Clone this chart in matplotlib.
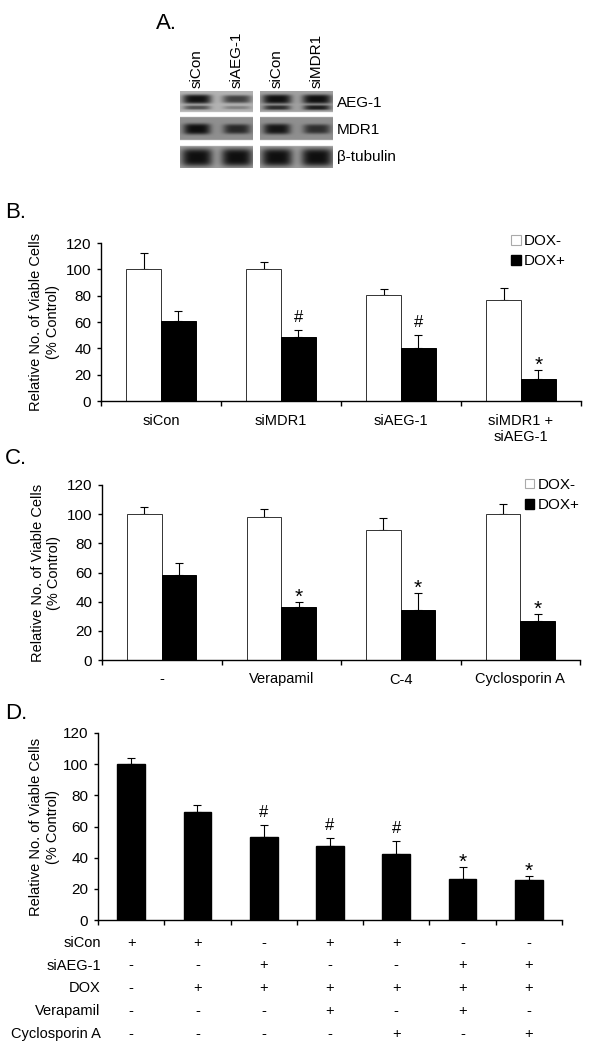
import numpy as np
import matplotlib
matplotlib.use("Agg")
import matplotlib.pyplot as plt
from matplotlib.patches import Patch

plt.rcParams['font.family'] = ['Liberation Sans', 'DejaVu Sans']
plt.rcParams['font.size'] = 10

# ---- panel A: western blot band strengths (0..1) per lane ----
blot_lanes = [["siCon", "siAEG-1"], ["siCon", "siMDR1"]]
blot_proteins = ["AEG-1", "MDR1", "β-tubulin"]
aeg_upper = [[1.0, 0.7], [1.0, 1.0]]
aeg_lower = [[0.6, 0.3], [0.8, 0.9]]
mdr1_band = [[1.0, 0.8], [0.95, 0.75]]
tubulin_band = [[1.0, 1.0], [1.0, 1.0]]

# ---- panel B ----
b_cats = ["siCon", "siMDR1", "siAEG-1", "siMDR1 +\nsiAEG-1"]
b_neg = [100, 100, 80.5, 76.6]
b_neg_err = [12.3, 5.7, 4.5, 9.4]
b_pos = [60.8, 48.5, 40.1, 16.6]
b_pos_err = [7.6, 5.1, 9.9, 6.6]
b_marks = ["", "#", "#", "*"]

# ---- panel C ----
c_cats = ["-", "Verapamil", "C-4", "Cyclosporin A"]
c_neg = [100, 98.4, 89.4, 100.2]
c_neg_err = [4.8, 5.0, 8.3, 6.5]
c_pos = [58.4, 36.6, 34.3, 26.7]
c_pos_err = [8.3, 2.9, 11.4, 5.0]
c_marks = ["", "*", "*", "*"]

# ---- panel D ----
d_vals = [100, 69.1, 53.5, 47.3, 42.6, 26.2, 25.4]
d_err = [3.9, 4.5, 7.3, 5.1, 7.9, 8.0, 3.0]
d_marks = ["", "", "#", "#", "#", "*", "*"]
d_rows = ["siCon", "siAEG-1", "DOX", "Verapamil", "Cyclosporin A"]
d_table = [
    ["+", "+", "-", "+", "+", "-", "-"],
    ["-", "-", "+", "-", "-", "+", "+"],
    ["-", "+", "+", "+", "+", "+", "+"],
    ["-", "-", "-", "+", "-", "+", "-"],
    ["-", "-", "-", "-", "+", "-", "+"],
]

ylabel = "Relative No. of Viable Cells\n(% Control)"
mark_off = {"#": 6, "*": -0.5}
mark_size = {"#": 12, "*": 15}

W, H = 595, 1050
fig = plt.figure(figsize=(W / 100, H / 100), dpi=100)


def px_rect(x0, y0, x1, y1):
    return [x0 / W, 1 - y1 / H, (x1 - x0) / W, (y1 - y0) / H]


# ---------- panel A ----------
fig.text(156 / W, 1 - 29 / H, "A.", fontsize=16, ha="left", va="baseline")


def blot_image(p):
    h, w = 77, 73
    ys = np.linspace(0, h, h * 4)[:, None]
    xs = np.linspace(0, w, w * 4)[None, :]
    img = np.ones((len(ys), xs.shape[1]))
    rows = [(0, 21, 0.70 if p == 0 else 0.63), (26, 49, 0.56), (55, 77, 0.62)]
    for (r0, r1, bg) in rows:
        m = (ys >= r0) & (ys <= r1)
        img = np.where(m, bg, img)
    lanes = [17, 57]
    bands = [(aeg_upper, 8, 4.6, 14.5), (aeg_lower, 16.5, 2.5, 13.5),
             (mdr1_band, 38, 5.4, 13.5), (tubulin_band, 66.5, 8.8, 15.5)]
    dark = np.zeros_like(img)
    for strength, yc, hh, hw in bands:
        for li, xc in enumerate(lanes):
            s = strength[p][li]
            hh_s = hh * (0.55 + 0.45 * s)
            dark += s * np.exp(-((xs - xc) / hw) ** 4) * np.exp(-((ys - yc) / hh_s) ** 4)
    dark = np.clip(dark, 0, 1)
    out = img * (1 - 0.9 * dark)
    return np.where(img >= 1, 1.0, out)


for p, (x0, x1) in enumerate([(180, 253), (260, 333)]):
    axb = fig.add_axes(px_rect(x0, 91, x1, 168))
    axb.imshow(blot_image(p), cmap="gray", vmin=0, vmax=1, aspect="auto",
               interpolation="bilinear")
    axb.axis("off")
    for li, lx in enumerate([x0 + 17, x0 + 57]):
        fig.text(lx / W, 1 - 88 / H, blot_lanes[p][li], rotation=90,
                 ha="center", va="bottom", fontsize=11)

for name, yc in zip(blot_proteins, [103, 129.5, 157]):
    fig.text(337 / W, 1 - yc / H, name, ha="left", va="center", fontsize=11)


def style_axes(ax, n):
    for s in ["top", "right"]:
        ax.spines[s].set_visible(False)
    for s in ["left", "bottom"]:
        ax.spines[s].set_linewidth(1.0)
    ax.set_ylim(0, 120)
    ax.set_yticks(range(0, 121, 20))
    ax.set_xlim(-0.5, n - 0.5)
    ax.set_xticks(np.arange(n + 1) - 0.5, minor=True)
    ax.tick_params(axis="x", which="minor", length=3.5, width=1, direction="out")
    ax.tick_params(axis="x", which="major", length=0, pad=9, labelsize=10.5)
    ax.tick_params(axis="y", length=3, width=1, pad=4, labelsize=11)
    ax.set_ylabel(ylabel, fontsize=10.5, linespacing=1.25)


def annotate(ax, xs, tops, marks):
    for x, t, m in zip(xs, tops, marks):
        if m:
            ax.annotate(m, xy=(x, t), xytext=(0, mark_off[m]), textcoords="offset points",
                        ha="center", va="baseline", fontsize=mark_size[m])


def grouped_panel(rect, cats, neg, neg_err, pos, pos_err, marks, letter, letter_y, leg_xy):
    ax = fig.add_axes(rect)
    n = len(cats)
    x = np.arange(n)
    bw = 0.29
    ax.bar(x - bw / 2, neg, bw, color="white", edgecolor="#333333", linewidth=0.7, zorder=2)
    ax.bar(x + bw / 2, pos, bw, color="black", edgecolor="black", linewidth=0.7, zorder=2)
    ax.errorbar(x - bw / 2, neg, yerr=[np.zeros(n), neg_err], fmt="none", ecolor="black",
                elinewidth=0.8, capsize=2.8, capthick=0.8, zorder=1)
    ax.errorbar(x + bw / 2, pos, yerr=[np.zeros(n), pos_err], fmt="none", ecolor="black",
                elinewidth=0.8, capsize=2.8, capthick=0.8, zorder=1)
    annotate(ax, x + bw / 2, np.array(pos) + np.array(pos_err), marks)
    style_axes(ax, n)
    ax.set_xticks(x, cats)
    ax.yaxis.set_label_coords(-0.085, 0.5)
    handles = [Patch(facecolor="white", edgecolor="#aaaaaa", linewidth=0.8),
               Patch(facecolor="black", edgecolor="black")]
    ax.legend(handles, ["DOX-", "DOX+"], loc="upper left", bbox_to_anchor=leg_xy,
              frameon=False, fontsize=11, handlelength=0.6, handleheight=0.6,
              handletextpad=0.2, labelspacing=0.4, borderpad=0, borderaxespad=0)
    fig.text(5 / W, 1 - letter_y / H, letter, fontsize=16, ha="left", va="baseline")
    return ax


grouped_panel(px_rect(101, 243, 581, 401), b_cats, b_neg, b_neg_err, b_pos, b_pos_err,
              b_marks, "B.", 218, (0.855, 1.055))
grouped_panel(px_rect(102, 485, 580, 660), c_cats, c_neg, c_neg_err, c_pos, c_pos_err,
              c_marks, "C.", 464, (0.885, 1.04))

# ---------- panel D ----------
axd = fig.add_axes(px_rect(98, 733, 562, 920))
n = len(d_vals)
xd = np.arange(n)
axd.bar(xd, d_vals, 0.42, color="black", edgecolor="black", zorder=2)
axd.errorbar(xd, d_vals, yerr=[np.zeros(n), d_err], fmt="none", ecolor="black",
             elinewidth=0.8, capsize=2.8, capthick=0.8, zorder=1)
annotate(axd, xd, np.array(d_vals) + np.array(d_err), d_marks)
style_axes(axd, n)
axd.set_xticks(xd, [""] * n)
axd.yaxis.set_label_coords(-0.082, 0.5)
fig.text(5 / W, 1 - 719 / H, "D.", fontsize=16, ha="left", va="baseline")

for r, (name, row) in enumerate(zip(d_rows, d_table)):
    dy = -(22.7 + 22.8 * r) * 0.72
    axd.annotate(name, xy=(0.006, 0), xycoords="axes fraction", xytext=(0, dy),
                 textcoords="offset points", ha="right", va="center", fontsize=10.5)
    for i, s in enumerate(row):
        axd.annotate(s, xy=(xd[i], 0), xycoords=("data", "axes fraction"), xytext=(0, dy),
                     textcoords="offset points", ha="center", va="center", fontsize=10.5)

fig.savefig("out.png", dpi=100)
